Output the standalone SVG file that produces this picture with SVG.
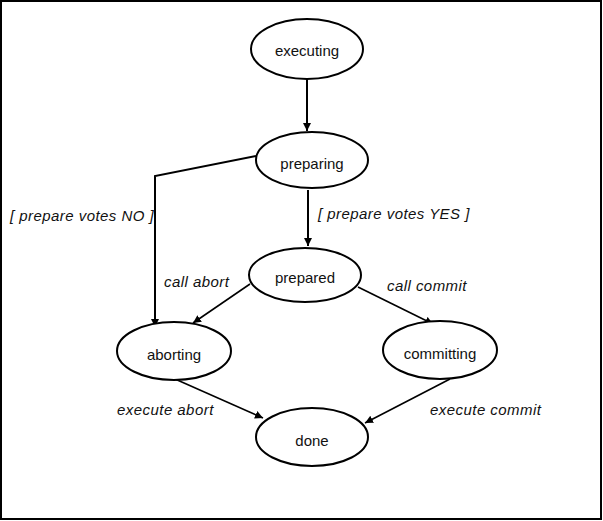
<svg xmlns="http://www.w3.org/2000/svg" width="603" height="521" viewBox="0 0 603 521">
<style>
.node ellipse{fill:#fff;stroke:#000;stroke-width:2}
.node text{font-family:"Liberation Sans",Arial,sans-serif;font-size:15px;fill:#111;text-anchor:middle;dominant-baseline:central}
.lbl{font-family:"Liberation Sans",Arial,sans-serif;font-size:15px;font-style:italic;fill:#111;letter-spacing:0.45px}
.c{fill:none;stroke:#000}
.thick{stroke-width:2}
.thin{stroke-width:1.6}
</style>
<defs>
<marker id="ah" viewBox="0 0 10 10" refX="10" refY="5" markerWidth="8" markerHeight="8" markerUnits="userSpaceOnUse" orient="auto">
<path d="M0,0 L10,5 L0,10 Z" fill="#000"/>
</marker>
</defs>
<rect x="1" y="1" width="600" height="518" fill="#fff" stroke="#000" stroke-width="2"/>
<g id="connectors">
<line class="c thick" x1="307" y1="80" x2="307" y2="131" marker-end="url(#ah)"/>
<line class="c thick" x1="308" y1="190" x2="308" y2="246" marker-end="url(#ah)"/>
<polyline class="c thick" points="256,156 155,176 155,327" marker-end="url(#ah)"/>
<line class="c thin" x1="250" y1="284" x2="193" y2="323" marker-end="url(#ah)"/>
<line class="c thin" x1="358" y1="287" x2="433" y2="324" marker-end="url(#ah)"/>
<line class="c thin" x1="175" y1="379" x2="263" y2="418" marker-end="url(#ah)"/>
<line class="c thin" x1="450" y1="379" x2="365" y2="423" marker-end="url(#ah)"/>
</g>
<g id="labels">
<text class="lbl" x="10" y="221">[ prepare votes NO ]</text>
<text class="lbl" x="318" y="219">[ prepare votes YES ]</text>
<text class="lbl" x="164" y="287">call abort</text>
<text class="lbl" x="387" y="291">call commit</text>
<text class="lbl" x="117" y="415">execute abort</text>
<text class="lbl" x="430" y="415">execute commit</text>
</g>
<g id="executing" class="node"><ellipse cx="307" cy="49" rx="56" ry="30"/><text x="307" y="50">executing</text></g>
<g id="preparing" class="node"><ellipse cx="312" cy="160" rx="56" ry="28"/><text x="312" y="163">preparing</text></g>
<g id="prepared" class="node"><ellipse cx="305" cy="275" rx="56" ry="27"/><text x="305" y="277">prepared</text></g>
<g id="aborting" class="node"><ellipse cx="174" cy="351" rx="57" ry="29"/><text x="174" y="354">aborting</text></g>
<g id="committing" class="node"><ellipse cx="440" cy="350" rx="57" ry="29"/><text x="440" y="353">committing</text></g>
<g id="done" class="node"><ellipse cx="312" cy="437" rx="56" ry="29"/><text x="312" y="440">done</text></g>
</svg>
